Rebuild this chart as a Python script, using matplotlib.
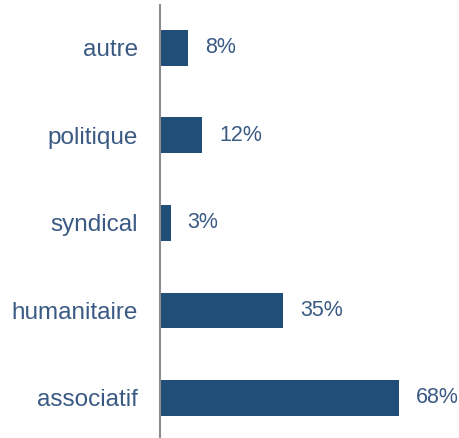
import matplotlib
matplotlib.use("Agg")
import matplotlib.pyplot as plt

# categories from bottom to top
categories = ["associatif", "humanitaire", "syndical", "politique", "autre"]
values = [68, 35, 3, 12, 8]
value_labels = ["68%", "35%", "3%", "12%", "8%"]

bar_color = "#214e78"
text_color = "#3a5a84"

plt.rcParams['font.family'] = ['Liberation Sans', 'DejaVu Sans']

fig = plt.figure(figsize=(4.6, 4.38), dpi=100)
ax = fig.add_axes([160/460, 0, 300/460, 433/438])

pos = list(range(len(categories)))
ax.barh(pos, values, height=0.41, color=bar_color)

for p, v, lab in zip(pos, values, value_labels):
    ax.annotate(lab, (v, p), xytext=(17, 0), textcoords='offset pixels',
                va='center', ha='left', fontsize=15.5, color=text_color)

ax.set_xlim(0, 300/3.519)
ax.set_ylim(-0.457, 4.49)
ax.set_yticks(pos)
ax.set_yticklabels(categories, fontsize=17.5, color=text_color)
ax.tick_params(axis='y', length=0, pad=15.8)
ax.set_xticks([])

for s in ['top', 'right', 'bottom']:
    ax.spines[s].set_visible(False)
ax.spines['left'].set_color('#8c8c8c')
ax.spines['left'].set_linewidth(1.5)

fig.savefig("out.png", dpi=100)
